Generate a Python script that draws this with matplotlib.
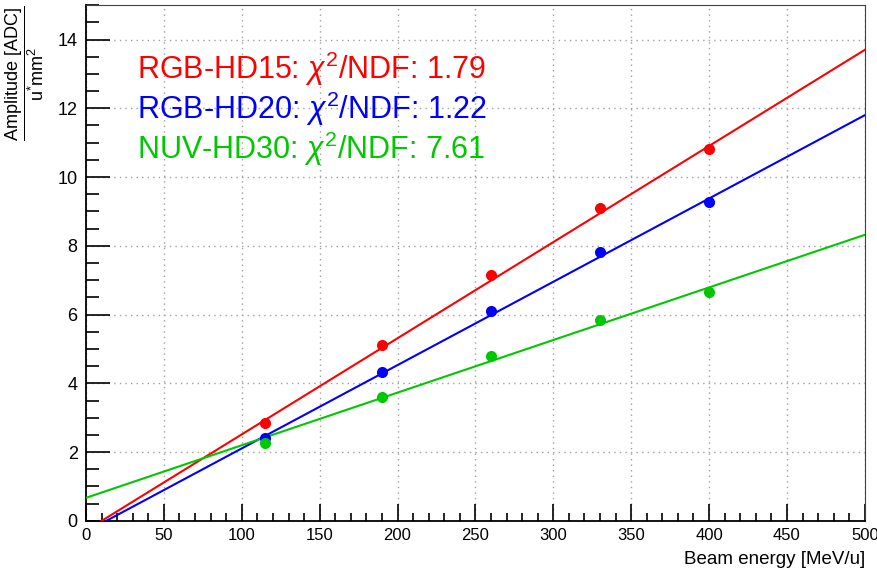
import numpy as np
import matplotlib
matplotlib.use("Agg")
import matplotlib.pyplot as plt
from matplotlib.ticker import MultipleLocator

plt.rcParams['font.family'] = ['Liberation Sans', 'DejaVu Sans']
plt.rcParams['mathtext.fontset'] = 'custom'
plt.rcParams['mathtext.rm'] = 'Liberation Sans'
plt.rcParams['mathtext.it'] = 'Liberation Sans:italic'
plt.rcParams['mathtext.bf'] = 'Liberation Sans:bold'

## DATA ##
energy = [115, 190, 260, 330, 400]
names = ['RGB-HD15', 'RGB-HD20', 'NUV-HD30']
chi2ndf = [1.79, 1.22, 7.61]
amp_hd15 = [2.85, 5.12, 7.16, 9.11, 10.83]
amp_hd20 = [2.42, 4.34, 6.11, 7.83, 9.28]
amp_nuv30 = [2.27, 3.61, 4.80, 5.85, 6.66]
# linear fit parameters (slope, intercept)
fit_slope = [0.02796, 0.02423, 0.01530]
fit_offset = [-0.28, -0.315, 0.67]
colors = ['#ff0000', '#0000ff', '#00c800']
fit_x = np.array([0.0, 500.0])

fig = plt.figure(figsize=(8.78, 5.73), dpi=100)
ax = fig.add_axes([0.098, 0.091, 0.887, 0.9])

series = [amp_hd15, amp_hd20, amp_nuv30]
for i in range(3):
    ax.plot(fit_x, fit_slope[i] * fit_x + fit_offset[i], color=colors[i], lw=1.5, zorder=3)
    ax.plot(energy, series[i], 'o', color=colors[i], ms=8, mec='none', zorder=4)

## LEGEND TEXT ##
for i in range(3):
    ax.text(0.0655, 0.8566 - i * 0.0775,
            names[i] + r': $\chi^{2}$/NDF: ' + '%.2f' % chi2ndf[i],
            transform=ax.transAxes, color=colors[i], fontsize=22, va='baseline')

ax.set_xlim(0, 500)
ax.set_ylim(0, 15)
ax.xaxis.set_major_locator(MultipleLocator(50))
ax.xaxis.set_minor_locator(MultipleLocator(10))
ax.yaxis.set_major_locator(MultipleLocator(2))
ax.yaxis.set_minor_locator(MultipleLocator(0.5))
ax.tick_params(which='both', direction='in', top=False, right=False, width=1.2, labelsize=13)
ax.tick_params(axis='x', labelsize=12)
ax.tick_params(axis='y', which='major', length=17, pad=6)
ax.tick_params(axis='y', which='minor', length=9)
ax.tick_params(axis='x', which='major', length=12, pad=5)
ax.tick_params(axis='x', which='minor', length=6)
ax.grid(True, which='major', color='#a0a0a0', linestyle=(0, (1, 3)), lw=1)
for s in ['left', 'bottom']:
    ax.spines[s].set_linewidth(1.3)
for s in ['top', 'right']:
    ax.spines[s].set_linewidth(0.8)
    ax.spines[s].set_color('#404040')

fig.text(0.985, 0.008, 'Beam energy [MeV/u]', ha='right', va='bottom', fontsize=13.5)
fig.text(0.028, 0.99, r'$\dfrac{\mathrm{Amplitude\ [ADC]}}{\mathrm{u^{*}mm^{2}}}$',
         rotation=90, ha='center', va='top', fontsize=13)

fig.savefig('out.png', dpi=100)
